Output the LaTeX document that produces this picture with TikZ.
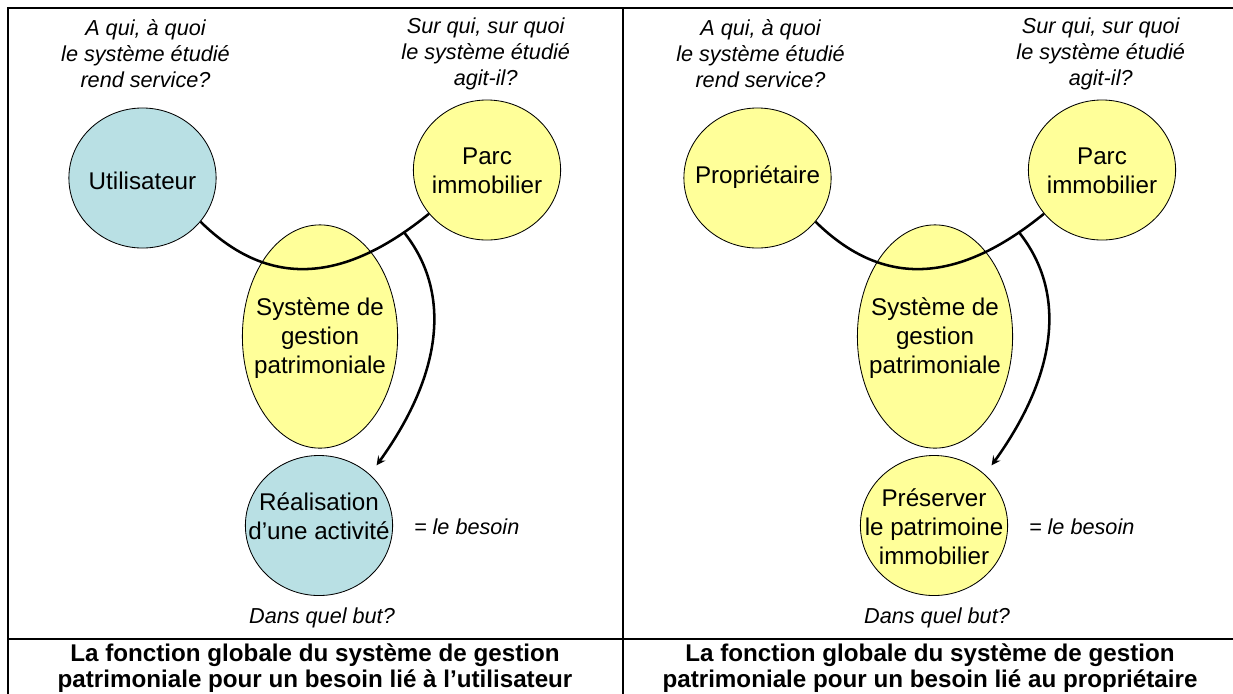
\documentclass[tikz,border=0pt]{standalone}
\usepackage{fontspec}
\setmainfont{Liberation Sans}
\usetikzlibrary{shapes.geometric}
\definecolor{bleu}{RGB}{185,224,228}
\definecolor{jaune}{RGB}{255,255,153}

\begin{document}
\begin{tikzpicture}[x=0.025cm,y=-0.025cm,
  bulle/.style={ellipse,draw,line width=0.6pt,inner sep=0pt,minimum width=3.68cm,minimum height=3.5cm},
  systeme/.style={bulle,fill=jaune,minimum width=3.88cm,minimum height=5.58cm},
  txt/.style={align=center,font=\fontsize{17.2}{20.6}\selectfont},
  quest/.style={align=center,font=\fontsize{15.4}{18.5}\selectfont\itshape},
  titre/.style={align=center,font=\fontsize{17.2}{18.5}\selectfont\bfseries},
  lien/.style={line width=1.8pt},
  cadre/.style={line width=1.4pt}]
\useasboundingbox (0,0) rectangle (1233,693);
\clip (0,0) rectangle (1233,693);
\draw[cadre] (8,8) rectangle (1250,720);
\draw[cadre] (623,8) -- (623,720);
\draw[cadre] (8,639) -- (1250,639);

\node[quest] (qA1) at (145.5,54) {A qui, à quoi\\le système étudié\\rend service?};
\node[quest] (qB1) at (485.7,54) {Sur qui, sur quoi\\le système étudié\\agit-il?};
\node[bulle,fill=bleu] (U) at (142.5,178) {};
\node[bulle,fill=jaune] (P1) at (487,170) {};
\node[systeme] (S1) at (320,336.5) {};
\node[bulle,fill=bleu] (B1) at (319,525.5) {};
\draw[lien] (U.-37) .. controls (270,290) and (345,282) .. (P1.-143) coordinate[pos=0.9] (J1);
\draw[lien,-stealth,shorten >=8pt] (J1) .. controls (450,290) and (445,370) .. (B1.45);
\node[txt] (tU) at (142.5,181) {Utilisateur};
\node[txt] (tP1) at (487,171) {Parc\\immobilier};
\node[txt] (tS1) at (320,338) {Système de\\gestion\\patrimoniale};
\node[txt] (tB1) at (319,516) {Réalisation\\d’une activité};
\node[quest] (eq1) at (466.7,527) {= le besoin};
\node[quest] (but1) at (322,618) {Dans quel but?};
\node[titre] (cap1) at (315,668) {La fonction globale du système de gestion\\patrimoniale pour un besoin lié à l’utilisateur};

\node[quest] (qA2) at (760.5,54) {A qui, à quoi\\le système étudié\\rend service?};
\node[quest] (qB2) at (1100.7,54) {Sur qui, sur quoi\\le système étudié\\agit-il?};
\node[bulle,fill=jaune] (R) at (757.5,178) {};
\node[bulle,fill=jaune] (P2) at (1102,170) {};
\node[systeme] (S2) at (935,336.5) {};
\node[bulle,fill=jaune] (B2) at (934,525.5) {};
\draw[lien] (R.-37) .. controls (885,290) and (960,282) .. (P2.-143) coordinate[pos=0.9] (J2);
\draw[lien,-stealth,shorten >=8pt] (J2) .. controls (1065,290) and (1060,370) .. (B2.45);
\node[txt] (tR) at (757.5,177) {Propriétaire};
\node[txt] (tP2) at (1102,171) {Parc\\immobilier};
\node[txt] (tS2) at (935,338) {Système de\\gestion\\patrimoniale};
\node[txt] (tB2) at (934,527) {Préserver\\le patrimoine\\immobilier};
\node[quest] (eq2) at (1081.7,527) {= le besoin};
\node[quest] (but2) at (937,618) {Dans quel but?};
\node[titre] (cap2) at (930,668) {La fonction globale du système de gestion\\patrimoniale pour un besoin lié au propriétaire};
\end{tikzpicture}
\end{document}
